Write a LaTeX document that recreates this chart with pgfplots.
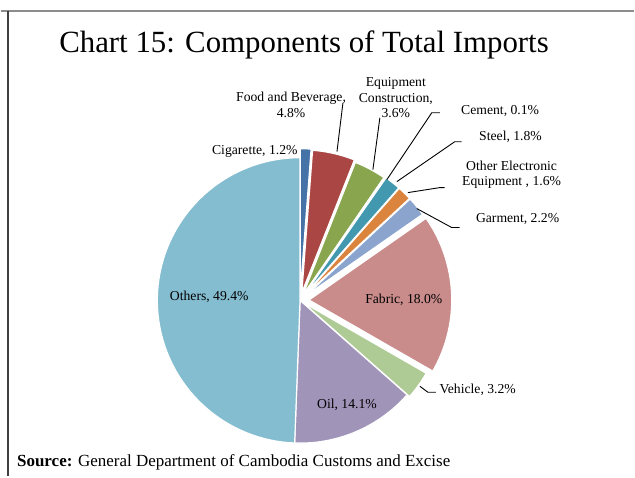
\documentclass[border=0pt]{standalone}
\usepackage{pgfplots}
\pgfplotsset{compat=1.18}
\usepackage{fontspec}
\setmainfont{Liberation Serif}
\definecolor{cCig}{HTML}{4573A8}
\definecolor{cFood}{HTML}{AA4643}
\definecolor{cEquip}{HTML}{89A54E}
\definecolor{cCem}{HTML}{71588F}
\definecolor{cSteel}{HTML}{4198AF}
\definecolor{cElec}{HTML}{DB843D}
\definecolor{cGar}{HTML}{8AA4CE}
\definecolor{cFab}{HTML}{CA8B8B}
\definecolor{cVeh}{HTML}{AECA95}
\definecolor{cOil}{HTML}{A194B9}
\definecolor{cOth}{HTML}{84BDD0}
\newcommand\lf{\fontsize{13.7}{15.6}\selectfont}
% slice: percentage, colour, explosion (px)
\def\cum{0}
\newcommand\slice[3]{%
  \pgfmathsetmacro\sa{90-3.6*\cum}%
  \pgfmathsetmacro\sb{90-3.6*(\cum+#1)}%
  \pgfmathsetmacro\sm{(\sa+\sb)/2}%
  \pgfmathsetmacro\sx{300+#3*cos(\sm)}%
  \pgfmathsetmacro\sy{301-#3*sin(\sm)}%
  \edef\doslice{\noexpand\addplot[fill=#2, draw=white, line width=1.2pt, line join=round, domain=\sb:\sa, samples=90] ({\sx+143*cos(x)},{\sy-143*sin(x)}) -- (axis cs:\sx,\sy) -- cycle;}%
  \doslice
  \pgfmathsetmacro\ncum{\cum+#1}\xdef\cum{\ncum}%
}
\begin{document}
\begin{tikzpicture}
\begin{axis}[width=635pt,height=477pt,scale only axis,
  xmin=0,xmax=635,ymin=0,ymax=477,y dir=reverse,
  hide axis,clip=false,enlargelimits=false]
\path (axis cs:0,0) rectangle (axis cs:635,477);
% frame
\draw[black!45, line width=1.3pt] (axis cs:0,11) -- (axis cs:635,11);
\draw[black!75, line width=2pt] (axis cs:7,11) -- (axis cs:7,477);
% slices (clockwise from 12 o'clock)
\slice{1.2}{cCig}{9}
\slice{4.8}{cFood}{8}
\slice{3.6}{cEquip}{6}
\slice{0.1}{cCem}{7}
\slice{1.8}{cSteel}{7}
\slice{1.6}{cElec}{7}
\slice{2.2}{cGar}{7}
\slice{18.0}{cFab}{9}
\slice{3.2}{cVeh}{3}
\slice{14.1}{cOil}{0}
\slice{49.4}{cOth}{0}
% title
\node[font=\fontsize{30.9}{35}\selectfont] at (axis cs:304,45) {Chart 15: Components of Total Imports};
% leader lines
\draw[black, line width=0.9pt] (axis cs:343,103) -- (axis cs:337,152);
\draw[black, line width=0.9pt] (axis cs:380,118) -- (axis cs:373,170);
\draw[black, line width=0.9pt] (axis cs:440,113) -- (axis cs:432,113) -- (axis cs:387,180);
\draw[black, line width=0.9pt] (axis cs:462,142) -- (axis cs:455,142) -- (axis cs:397,182);
\draw[black, line width=0.9pt] (axis cs:445,188) -- (axis cs:440,188) -- (axis cs:408,193);
\draw[black, line width=0.9pt] (axis cs:460,228) -- (axis cs:452,228) -- (axis cs:417,209);
\draw[black, line width=0.9pt] (axis cs:436,393) -- (axis cs:428,393) -- (axis cs:420,387);
% labels
\node[font=\lf, align=center] at (axis cs:291,105) {Food and Beverage,\\4.8\%};
\node[font=\lf, align=center] at (axis cs:396,98) {Equipment\\Construction,\\3.6\%};
\node[font=\lf, anchor=west] at (axis cs:458,111) {Cement, 0.1\%};
\node[font=\lf, anchor=west] at (axis cs:476,137) {Steel, 1.8\%};
\node[font=\lf, align=center] at (axis cs:512,175) {Other Electronic\\Equipment , 1.6\%};
\node[font=\lf] at (axis cs:518,219) {Garment, 2.2\%};
\node[font=\lf] at (axis cs:404,300) {Fabric, 18.0\%};
\node[font=\lf] at (axis cs:478,391) {Vehicle, 3.2\%};
\node[font=\lf] at (axis cs:347,406) {Oil, 14.1\%};
\node[font=\lf] at (axis cs:209,297) {Others, 49.4\%};
\node[font=\lf, anchor=east] at (axis cs:301,152) {Cigarette, 1.2\%};
% source
\node[font=\fontsize{17}{19}\selectfont, anchor=west] at (axis cs:13,463) {\textbf{Source:} General Department of Cambodia Customs and Excise};
\end{axis}
\end{tikzpicture}
\end{document}
